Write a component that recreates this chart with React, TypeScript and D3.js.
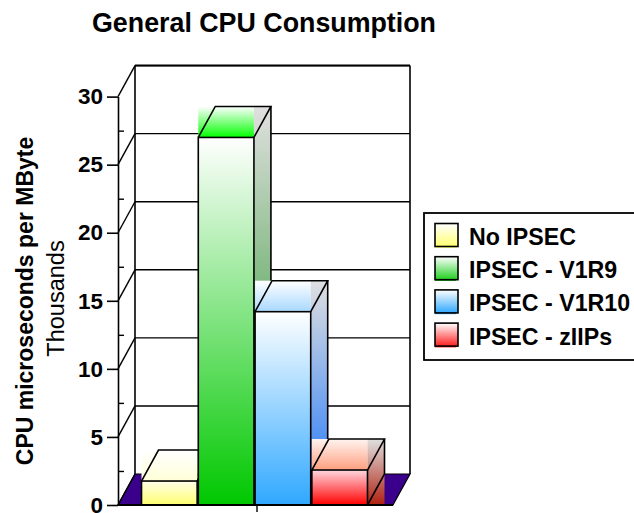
import React, {useEffect, useRef} from 'react'
import * as d3 from 'd3'

const categories = ['No IPSEC', 'IPSEC - V1R9', 'IPSEC - V1R10', 'IPSEC - zIIPs']
const values = [1.76, 27.0, 14.2, 2.57]
const majorTicks = [0, 5, 10, 15, 20, 25, 30]
const minorTicks = [2.5, 7.5, 12.5, 17.5, 22.5, 27.5]

const frontTop = ['#ffffe8', '#ffffff', '#ffffff', '#ffd8e0']
const frontBottom = ['#ffff70', '#00c800', '#30a8ff', '#ff0000']
const topTop = ['#ffffff', '#ffffff', '#ffffff', '#fff4f0']
const topBottom = ['#ffffd8', '#00ff00', '#a8d8ff', '#ff9f80']
const sideTop = ['#e0e0e0', '#e0e0e0', '#e0e0e0', '#e0e0e0']
const sideBottom = ['#c0c060', '#088708', '#1671fa', '#b02010']
const legendTop = ['#ffffff', '#ffffff', '#ffffff', '#ffffff']
const legendBottom = ['#ffff70', '#20d020', '#30a8ff', '#ff2020']

const font = '"Liberation Sans", Arial, sans-serif'
const depthX = 17
const depthY = 31

const App = () => {
    const axisRef = useRef<SVGGElement>(null)
    const y = d3.scaleLinear().domain([0, 30]).range([505, 96.6])
    const x = d3.scaleBand().domain(categories).range([141.5, 367.5]).paddingInner(0.02)
    const left = 118
    const right = 393
    const y0 = y(0)

    useEffect(() => {
        const g = d3.select(axisRef.current)
        g.selectAll('*').remove()
        const major = g.append('g').attr('transform', `translate(${left},0)`)
            .call(d3.axisLeft(y).tickValues(majorTicks).tickSize(11).tickSizeOuter(0).tickPadding(4))
        major.selectAll('text').attr('font-family', font).attr('font-size', 22.5).attr('font-weight', 'bold').attr('fill', '#000')
        major.selectAll('line,path').attr('stroke', '#000').attr('stroke-width', 1.6)
        const minor = g.append('g').attr('transform', `translate(${left},0)`)
            .call(d3.axisRight(y).tickValues(minorTicks).tickSize(6).tickSizeOuter(0).tickFormat(() => ''))
        minor.selectAll('path').remove()
        minor.selectAll('line').attr('stroke', '#000').attr('stroke-width', 1.4)
    }, [])

    const line = d3.line()
    const ink = {stroke: '#000', strokeWidth: 1.6}

    return (
        <svg width={634} height={513} style={{position: 'absolute', left: 0, top: 0}}>
            <defs>
                {categories.map((c, i) => (
                    <React.Fragment key={c}>
                        <linearGradient id={`front${i}`} x1="0" y1="0" x2="0" y2="1">
                            <stop offset="0" stopColor={frontTop[i]} />
                            <stop offset="1" stopColor={frontBottom[i]} />
                        </linearGradient>
                        <linearGradient id={`top${i}`} x1="0" y1="0" x2="0" y2="1">
                            <stop offset="0" stopColor={topTop[i]} />
                            <stop offset="1" stopColor={topBottom[i]} />
                        </linearGradient>
                        <linearGradient id={`side${i}`} x1="0" y1="0" x2="0" y2="1">
                            <stop offset="0" stopColor={sideTop[i]} />
                            <stop offset="1" stopColor={sideBottom[i]} />
                        </linearGradient>
                        <linearGradient id={`legend${i}`} x1="0" y1="0" x2="0" y2="1">
                            <stop offset="0" stopColor={legendTop[i]} />
                            <stop offset="1" stopColor={legendBottom[i]} />
                        </linearGradient>
                    </React.Fragment>
                ))}
            </defs>

            <text x={264} y={32} textAnchor="middle" fontFamily={font} fontSize={26.8} fontWeight="bold">
                General CPU Consumption
            </text>
            <text transform="translate(33,301) rotate(-90)" textAnchor="middle" fontFamily={font} fontSize={23} fontWeight="bold">
                CPU microseconds per MByte
            </text>
            <text transform="translate(64,298.5) rotate(-90)" textAnchor="middle" fontFamily={font} fontSize={23.5}>
                Thousands
            </text>

            {/* back wall and side wall */}
            <path d={line([[left, y0], [right, y0], [right + depthX, y0 - depthY], [left + depthX, y0 - depthY]]) + 'Z'} fill="#3a008c" stroke="#000" strokeWidth={1.2} />
            {majorTicks.map(t => (
                <g key={t}>
                    {t > 0 && <line x1={left + depthX} x2={right + depthX} y1={y(t) - depthY} y2={y(t) - depthY} stroke="#000" strokeWidth={1.4} />}
                    <line x1={left} x2={left + depthX} y1={y(t)} y2={y(t) - depthY} stroke="#000" strokeWidth={1.4} />
                </g>
            ))}
            <line x1={left + depthX} x2={left + depthX} y1={y0 - depthY} y2={y(30) - depthY} stroke="#000" strokeWidth={1.6} />
            <line x1={right + depthX} x2={right + depthX} y1={y0 - depthY} y2={y(30) - depthY} stroke="#000" strokeWidth={1.6} />
            <line x1={left + depthX} x2={right + depthX} y1={y(30) - depthY} y2={y(30) - depthY} stroke="#000" strokeWidth={2} />

            {/* bars, left to right so each one covers the side of the last */}
            {categories.map((c, i) => {
                const x0 = x(c) as number
                const x1 = x0 + x.bandwidth()
                const yt = y(values[i])
                return (
                    <g key={c}>
                        <rect x={x0} y={yt - depthY} width={x1 - x0} height={depthY} fill={`url(#top${i})`} />
                        <rect x={x1} y={yt - depthY} width={depthX} height={y0 - yt + depthY} fill={`url(#side${i})`} />
                        <rect x={x0} y={yt} width={x1 - x0} height={y0 - yt} fill={`url(#front${i})`} {...ink} />
                        <path d={line([[x0, yt], [x0 + depthX, yt - depthY], [x1 + depthX, yt - depthY], [x1, yt]]) as string} fill="none" {...ink} />
                        <path d={line([[x1 + depthX, yt - depthY], [x1 + depthX, y0 - depthY], [x1, y0]]) as string} fill="none" {...ink} />
                    </g>
                )
            })}

            <g ref={axisRef} />
            <line x1={left} x2={right} y1={y0} y2={y0} stroke="#000" strokeWidth={1.8} />
            <line x1={257} x2={257} y1={y0} y2={y0 + 7} stroke="#000" strokeWidth={1.4} />

            {/* legend */}
            <rect x={424} y={213} width={212} height={147} fill="#fff" stroke="#000" strokeWidth={1.8} />
            {categories.map((c, i) => (
                <g key={c} transform={`translate(0,${33.2 * i})`}>
                    <rect x={435} y={224} width={21} height={23.8} fill={legendBottom[i]} />
                    <rect x={435} y={223.5} width={23} height={23} fill={`url(#legend${i})`} stroke="#000" strokeWidth={1.6} />
                    <text x={469} y={245} fontFamily={font} fontSize={23.2} fontWeight="bold">{c}</text>
                </g>
            ))}
        </svg>
    )
}
export default App
